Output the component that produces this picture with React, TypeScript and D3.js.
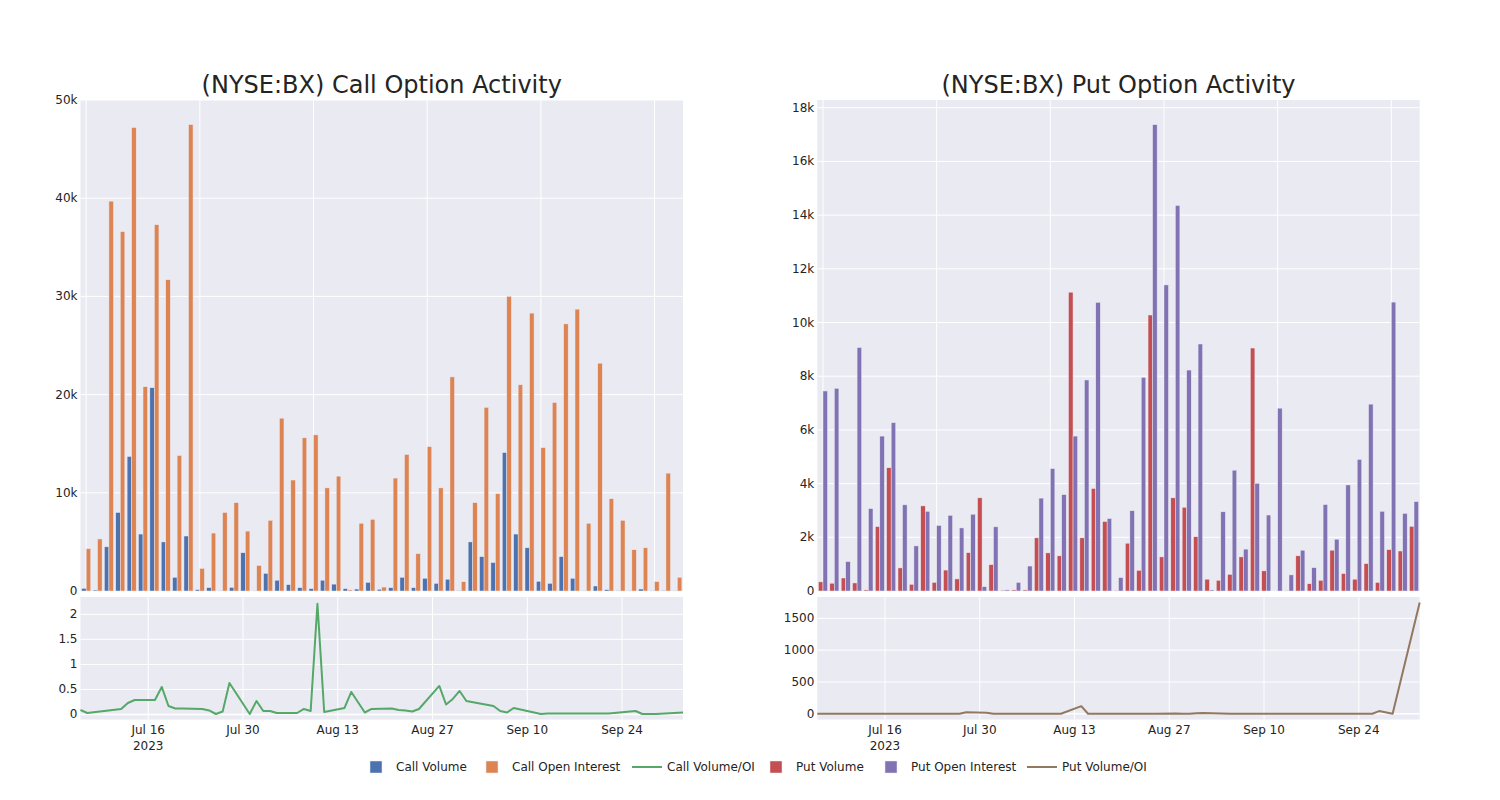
import React from "react";
import * as d3 from "d3";

const dates = [
  "2023-07-06","2023-07-07","2023-07-12","2023-07-13","2023-07-14","2023-07-17","2023-07-18","2023-07-19","2023-07-20","2023-07-21",
  "2023-07-24","2023-07-25","2023-07-26","2023-07-27","2023-07-28","2023-07-31","2023-08-01","2023-08-02","2023-08-03","2023-08-04",
  "2023-08-07","2023-08-08","2023-08-09","2023-08-10","2023-08-11","2023-08-14","2023-08-15","2023-08-17","2023-08-18","2023-08-21",
  "2023-08-22","2023-08-23","2023-08-24","2023-08-25","2023-08-28","2023-08-29","2023-08-30","2023-08-31","2023-09-01","2023-09-05",
  "2023-09-06","2023-09-07","2023-09-08","2023-09-12","2023-09-13","2023-09-14","2023-09-18","2023-09-20","2023-09-22","2023-09-26",
  "2023-09-27","2023-09-29","2023-10-03",
];

const callVolume = [
  270,100,4500,8000,13700,5800,20700,5000,1400,5600,
  140,340,30,370,3900,30,1800,1100,650,340,
  240,1100,700,240,200,880,180,340,1400,340,
  1300,780,1200,50,5000,3500,2900,14100,5800,4400,
  990,780,3500,1300,30,510,140,40,40,200,
  10,70,30,
];
const callOI = [
  4300,5300,39700,36600,47200,20800,37300,31700,13800,47500,
  2300,5900,8000,9000,6100,2600,7200,17600,11300,15600,
  15900,10500,11700,110,6900,7300,400,11500,13900,3800,
  14700,10500,21800,950,9000,18700,9900,30000,21000,28300,
  14600,19200,27200,28700,6900,23200,9400,7200,4200,4400,
  950,12000,1400,
];
const callRatio = [
  0.09,0.03,0.11,0.23,0.29,0.29,0.55,0.17,0.12,0.12,
  0.11,0.08,0.01,0.06,0.63,0.01,0.27,0.07,0.07,0.03,
  0.03,0.11,0.07,2.21,0.05,0.13,0.45,0.04,0.11,0.12,
  0.09,0.08,0.06,0.11,0.57,0.2,0.31,0.47,0.27,0.17,
  0.07,0.04,0.13,0.01,0.02,0.02,0.02,0.02,0.02,0.07,
  0.01,0.01,0.04,
];
const putVolume = [
  340,290,485,300,40,2400,4590,860,250,3170,
  320,780,450,1430,3470,980,30,40,40,1980,
  1420,1310,11130,1980,3820,2590,20,1780,770,10280,
  1270,3470,3120,2020,440,400,620,1270,9050,750,
  0,15,1310,270,400,1520,650,440,1020,320,
  1540,1490,2410,
];
const putOI = [
  7450,7550,1095,9070,3070,5770,6270,3210,1680,2970,
  2440,2820,2350,2860,160,2390,40,320,930,3460,
  4560,3590,5770,7860,10750,2700,500,2990,7960,17370,
  11400,14360,8230,9200,40,2950,4500,1560,4010,2830,
  6810,600,1520,870,3220,1930,3950,4900,6960,2970,
  10760,2890,3330,
];
const putRatio = [
  0.05,0.04,0.44,0.03,0.01,0.42,0.73,0.27,0.15,1.07,
  0.13,0.28,0.19,0.5,25,15,0.75,0.13,0.04,0.57,
  0.31,0.36,1.93,0.25,0.36,120,0.04,0.6,0.1,0.59,
  0.11,0.24,0.38,0.22,5,0.14,0.14,10,12,0.27,
  0,0.03,0.86,0.31,0.12,0.79,0.16,0.09,0.15,0.11,
  42,0.52,1750,
];

const callTicks = [0, 10000, 20000, 30000, 40000, 50000];
const putTicks = [0, 2000, 4000, 6000, 8000, 10000, 12000, 14000, 16000, 18000];
const callRatioTicks = [0, 0.5, 1, 1.5, 2];
const putRatioTicks = [0, 500, 1000, 1500];
const dateTicks = ["2023-07-16", "2023-07-30", "2023-08-13", "2023-08-27", "2023-09-10", "2023-09-24"];

const COLORS = {
  callVol: "#4C72B0",
  callOI: "#DD8452",
  callRatio: "#55A868",
  putVol: "#C44E52",
  putOI: "#8172B3",
  putRatio: "#937860",
};

const BG = "rgb(234,234,242)";
const TXT = "rgb(36,36,36)";
const FONT = "'DejaVu Sans', Verdana, sans-serif";

const parse = d3.timeParse("%Y-%m-%d");
const parsedDates = dates.map((d) => parse(d) as Date);
const parsedTicks = dateTicks.map((d) => parse(d) as Date);
const fmtTick = d3.timeFormat("%b %d");

const fmtK = (v: number) => (v === 0 ? "0" : `${v / 1000}k`);
const fmtNum = (v: number) => `${v}`;

type PanelProps = {
  x0: number;
  x1: number;
  title: string;
  volume: number[];
  oi: number[];
  ratio: number[];
  yMax: number;
  yTicks: number[];
  ratioDomain: [number, number];
  ratioTicks: number[];
  colors: [string, string, string];
};

const TOP0 = 100;
const TOP1 = 591;
const BOT0 = 597;
const BOT1 = 719.5;

function Panel(p: PanelProps) {
  const idx = dates.map((_, i) => i);
  const band = d3.scaleBand<number>().domain(idx).range([p.x0, p.x1]).paddingInner(0.2).paddingOuter(0.1);
  const sub = d3.scaleBand<string>().domain(["v", "o"]).range([0, band.bandwidth()]);
  const y = d3.scaleLinear().domain([0, p.yMax]).range([TOP1, TOP0]);
  const yr = d3.scaleLinear().domain(p.ratioDomain).range([BOT1, BOT0]);
  const xt = d3.scaleTime().domain([parsedDates[0], parsedDates[parsedDates.length - 1]]).range([p.x0, p.x1]);
  const line = d3
    .line<number>()
    .x((_, i) => xt(parsedDates[i]))
    .y((v) => yr(v));
  const center = (i: number) => (band(i) as number) + band.bandwidth() / 2;
  const gridCats = idx.filter((i) => i % 10 === 0);

  return (
    <g>
      <text x={(p.x0 + p.x1) / 2} y={93} textAnchor="middle" fontSize={24} fill={TXT} fontFamily={FONT}>
        {p.title}
      </text>
      {/* upper plot */}
      <rect x={p.x0} y={TOP0} width={p.x1 - p.x0} height={TOP1 - TOP0} fill={BG} />
      {p.yTicks.map((t) => (
        <g key={"yg" + t}>
          {t !== 0 && <line x1={p.x0} x2={p.x1} y1={y(t)} y2={y(t)} stroke="white" strokeWidth={1} />}
          <text x={p.x0 - 3} y={y(t) + 4} textAnchor="end" fontSize={12} fill={TXT} fontFamily={FONT}>
            {fmtK(t)}
          </text>
        </g>
      ))}
      {gridCats.map((i) => (
        <line key={"xg" + i} x1={center(i)} x2={center(i)} y1={TOP0} y2={TOP1} stroke="white" strokeWidth={1} />
      ))}
      {idx.map((i) => (
        <g key={"b" + i}>
          <rect
            x={(band(i) as number) + (sub("v") as number)}
            y={y(p.volume[i])}
            width={sub.bandwidth()}
            height={TOP1 - y(p.volume[i])}
            fill={p.colors[0]}
            stroke={BG}
            strokeWidth={0.5}
          />
          <rect
            x={(band(i) as number) + (sub("o") as number)}
            y={y(p.oi[i])}
            width={sub.bandwidth()}
            height={TOP1 - y(p.oi[i])}
            fill={p.colors[1]}
            stroke={BG}
            strokeWidth={0.5}
          />
        </g>
      ))}
      {/* lower plot */}
      <rect x={p.x0} y={BOT0} width={p.x1 - p.x0} height={BOT1 - BOT0} fill={BG} />
      {p.ratioTicks.map((t) => (
        <g key={"rg" + t}>
          <line x1={p.x0} x2={p.x1} y1={yr(t)} y2={yr(t)} stroke="white" strokeWidth={t === 0 ? 1.5 : 1} />
          <text x={p.x0 - 3} y={yr(t) + 4} textAnchor="end" fontSize={12} fill={TXT} fontFamily={FONT}>
            {fmtNum(t)}
          </text>
        </g>
      ))}
      {parsedTicks.map((d, k) => (
        <g key={"dt" + k}>
          <line x1={xt(d)} x2={xt(d)} y1={BOT0} y2={BOT1} stroke="white" strokeWidth={1} />
          <text x={xt(d)} y={734} textAnchor="middle" fontSize={12} fill={TXT} fontFamily={FONT}>
            {fmtTick(d)}
          </text>
          {k === 0 && (
            <text x={xt(d)} y={750} textAnchor="middle" fontSize={12} fill={TXT} fontFamily={FONT}>
              {d.getFullYear()}
            </text>
          )}
        </g>
      ))}
      <path d={line(p.ratio) as string} fill="none" stroke={p.colors[2]} strokeWidth={2} strokeLinejoin="round" />
    </g>
  );
}

const legendItems = [
  { label: "Call Volume", color: COLORS.callVol, kind: "bar", x: 356 },
  { label: "Call Open Interest", color: COLORS.callOI, kind: "bar", x: 472 },
  { label: "Call Volume/OI", color: COLORS.callRatio, kind: "line", x: 627 },
  { label: "Put Volume", color: COLORS.putVol, kind: "bar", x: 756 },
  { label: "Put Open Interest", color: COLORS.putOI, kind: "bar", x: 871 },
  { label: "Put Volume/OI", color: COLORS.putRatio, kind: "line", x: 1022 },
];

export default function App() {
  return (
    <svg width={1500} height={800} style={{ display: "block", position: "absolute", left: 0, top: 0 }}>
      <rect x={0} y={0} width={1500} height={800} fill="white" />
      <Panel
        x0={80.5}
        x1={683}
        title="(NYSE:BX) Call Option Activity"
        volume={callVolume}
        oi={callOI}
        ratio={callRatio}
        yMax={50000}
        yTicks={callTicks}
        ratioDomain={[-0.1, 2.346]}
        ratioTicks={callRatioTicks}
        colors={[COLORS.callVol, COLORS.callOI, COLORS.callRatio]}
      />
      <Panel
        x0={817.3}
        x1={1419.7}
        title="(NYSE:BX) Put Option Activity"
        volume={putVolume}
        oi={putOI}
        ratio={putRatio}
        yMax={18288}
        yTicks={putTicks}
        ratioDomain={[-90, 1836]}
        ratioTicks={putRatioTicks}
        colors={[COLORS.putVol, COLORS.putOI, COLORS.putRatio]}
      />
      {legendItems.map((it) => (
        <g key={it.label} transform={`translate(${it.x},767)`}>
          {it.kind === "bar" ? (
            <rect x={14} y={-6} width={12} height={12} fill={it.color} stroke={BG} strokeWidth={0.5} />
          ) : (
            <line x1={5} x2={35} y1={0} y2={0} stroke={it.color} strokeWidth={2} />
          )}
          <text x={40} y={4} fontSize={12} fill={TXT} fontFamily={FONT}>
            {it.label}
          </text>
        </g>
      ))}
    </svg>
  );
}
